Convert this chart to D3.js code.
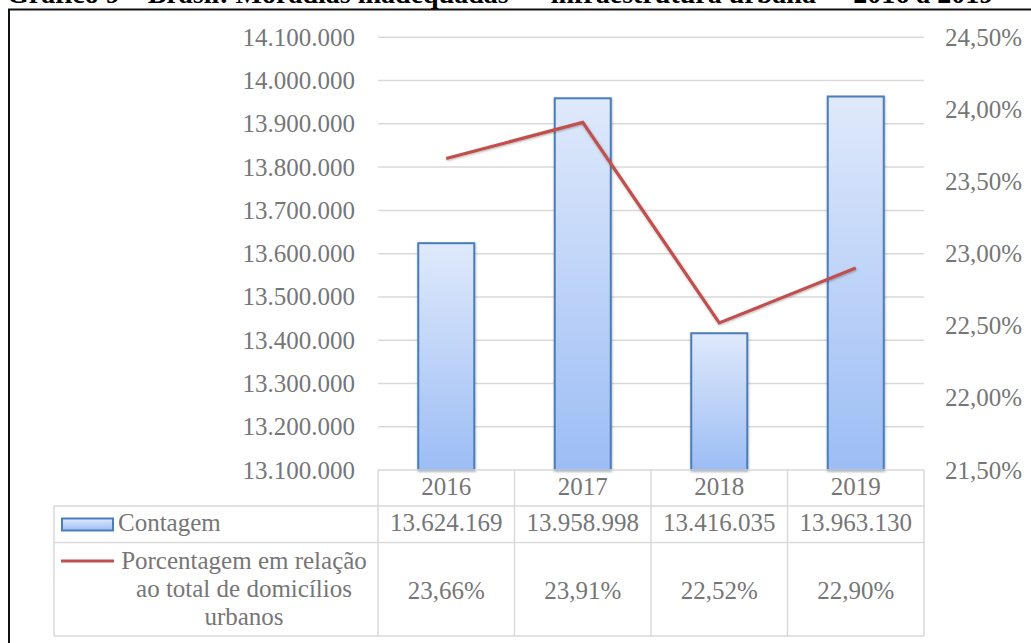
<!DOCTYPE html>
<html lang="pt">
<head><meta charset="utf-8"/>
<script src="https://cdn.jsdelivr.net/npm/d3@7"></script>
<style>
body { margin:0; background:#fff; }
svg text { font-family: "Liberation Serif", "Times New Roman", serif; fill:#767676; }
.grid line { stroke:#d9d9d9; stroke-width:1.5px; }
.tbl line { stroke:#d9d9d9; stroke-width:1.5px; }
</style>
</head>
<body>
<svg id="chart" width="1031" height="643"></svg>
<script>

var years = ["2016", "2017", "2018", "2019"];
var contagem = [13624169, 13958998, 13416035, 13963130];
var porcentagem = [23.66, 23.91, 22.52, 22.90];
var leftTicks = [13100000, 13200000, 13300000, 13400000, 13500000, 13600000,
	13700000, 13800000, 13900000, 14000000, 14100000];
var rightTicks = [21.5, 22.0, 22.5, 23.0, 23.5, 24.0, 24.5];
var titulo = "Gráfico 9 – Brasil: Moradias inadequadas  –  infraestrutura urbana  -  2016 a 2019";
var nomeBarras = "Contagem";
var nomeLinha = ["Porcentagem em relação", "ao total de domicílios", "urbanos"];

var svg = d3.select("#chart");
var fmtNum = d3.formatLocale({decimal: ",", thousands: ".", grouping: [3], currency: ["R$", ""]});
var fmtInt = fmtNum.format(",d");
var fmtPct = v => fmtNum.format(".2f")(v) + "%";

var plot = {left: 378, right: 924, top: 37.3, bottom: 470};

var x = d3.scaleBand().domain(years).range([plot.left, plot.right]);
var yL = d3.scaleLinear().domain([13100000, 14100000]).range([plot.bottom, plot.top]);
var yR = d3.scaleLinear().domain([21.5, 24.5]).range([plot.bottom, plot.top]);

// title (cut off by the page top) and frame
svg.append("text").attr("x", 7).attr("y", 3)
	.style("font-weight", "bold").style("font-size", "28px").style("fill", "#000")
	.style("white-space", "pre")
	.text(titulo);
svg.append("rect").attr("x", 9).attr("y", 9.5).attr("width", 1040).attr("height", 660)
	.attr("fill", "none").attr("stroke", "#111").attr("stroke-width", 2);

var defs = svg.append("defs");
var grad = defs.append("linearGradient").attr("id", "barGrad")
	.attr("x1", 0).attr("y1", 0).attr("x2", 0).attr("y2", 1);
grad.append("stop").attr("offset", "0%").attr("stop-color", "#dfe9fb");
grad.append("stop").attr("offset", "100%").attr("stop-color", "#9cbdf5");
var shadow = defs.append("filter").attr("id", "shd").attr("x", "-20%").attr("y", "-20%")
	.attr("width", "140%").attr("height", "140%");
shadow.append("feDropShadow").attr("dx", 0.5).attr("dy", 1).attr("stdDeviation", 1.2)
	.attr("flood-color", "#000").attr("flood-opacity", 0.3);

// gridlines
svg.append("g").attr("class", "grid")
	.selectAll("line").data(leftTicks.slice(1)).enter().append("line")
	.attr("x1", plot.left).attr("x2", plot.right)
	.attr("y1", d => yL(d)).attr("y2", d => yL(d));

// left axis labels
svg.append("g").selectAll("text").data(leftTicks).enter().append("text")
	.attr("x", 355).attr("y", d => yL(d) + 8.5)
	.attr("text-anchor", "end").style("font-size", "25px")
	.text(d => fmtInt(d));

// right axis labels
svg.append("g").selectAll("text").data(rightTicks).enter().append("text")
	.attr("x", 945).attr("y", d => yR(d) + 8.5)
	.style("font-size", "25px")
	.text(d => fmtPct(d));

// bars
var bw = 56;
svg.append("g").selectAll("rect").data(contagem).enter().append("rect")
	.attr("x", (d, i) => x(years[i]) + x.bandwidth() / 2 - bw / 2)
	.attr("y", d => yL(d))
	.attr("width", bw)
	.attr("height", d => yL(13100000) - yL(d))
	.attr("fill", "url(#barGrad)")
	.attr("stroke", "#4a7ebb").attr("stroke-width", 2)
	.attr("filter", "url(#shd)");

// line
var line = d3.line()
	.x((d, i) => x(years[i]) + x.bandwidth() / 2)
	.y(d => yR(d));
svg.append("path").datum(porcentagem)
	.attr("d", line)
	.attr("fill", "none").attr("stroke", "#c0504d").attr("stroke-width", 3.2)
	.attr("filter", "url(#shd)");

// data table
var rowTop = plot.bottom, rowH = 506, rowC = 542.5, rowBot = 636, tblLeft = 54;
var tbl = svg.append("g").attr("class", "tbl");
tbl.append("line").attr("x1", plot.left).attr("x2", plot.right).attr("y1", rowTop).attr("y2", rowTop);
[rowH, rowC, rowBot].forEach(function(yy){
	tbl.append("line").attr("x1", tblLeft).attr("x2", plot.right).attr("y1", yy).attr("y2", yy);
});
tbl.append("line").attr("x1", tblLeft).attr("x2", tblLeft).attr("y1", rowH).attr("y2", rowBot);
years.forEach(function(yr){
	tbl.append("line").attr("x1", x(yr)).attr("x2", x(yr)).attr("y1", rowTop).attr("y2", rowBot);
});
tbl.append("line").attr("x1", plot.right).attr("x2", plot.right).attr("y1", rowTop).attr("y2", rowBot);

var cx = yr => x(yr) + x.bandwidth() / 2;
svg.append("g").selectAll("text").data(years).enter().append("text")
	.attr("x", d => cx(d)).attr("y", 495).attr("text-anchor", "middle")
	.style("font-size", "25px").text(d => d);
svg.append("g").selectAll("text").data(contagem).enter().append("text")
	.attr("x", (d, i) => cx(years[i])).attr("y", 531).attr("text-anchor", "middle")
	.style("font-size", "25px").text(d => fmtInt(d));
svg.append("g").selectAll("text").data(porcentagem).enter().append("text")
	.attr("x", (d, i) => cx(years[i])).attr("y", 599).attr("text-anchor", "middle")
	.style("font-size", "25px").text(d => fmtPct(d));

// legend keys
svg.append("rect").attr("x", 62).attr("y", 518.5).attr("width", 51).attr("height", 12)
	.attr("fill", "url(#barGrad)").attr("stroke", "#4a7ebb").attr("stroke-width", 2);
svg.append("text").attr("x", 118).attr("y", 531).style("font-size", "25px").text(nomeBarras);
svg.append("line").attr("x1", 61).attr("x2", 114).attr("y1", 561).attr("y2", 561)
	.attr("stroke", "#c0504d").attr("stroke-width", 3.2);
svg.append("g").selectAll("text").data(nomeLinha).enter().append("text")
	.attr("x", 244).attr("y", (d, i) => 569 + i * 28).attr("text-anchor", "middle")
	.style("font-size", "25px").text(d => d);

</script>
</body>
</html>
